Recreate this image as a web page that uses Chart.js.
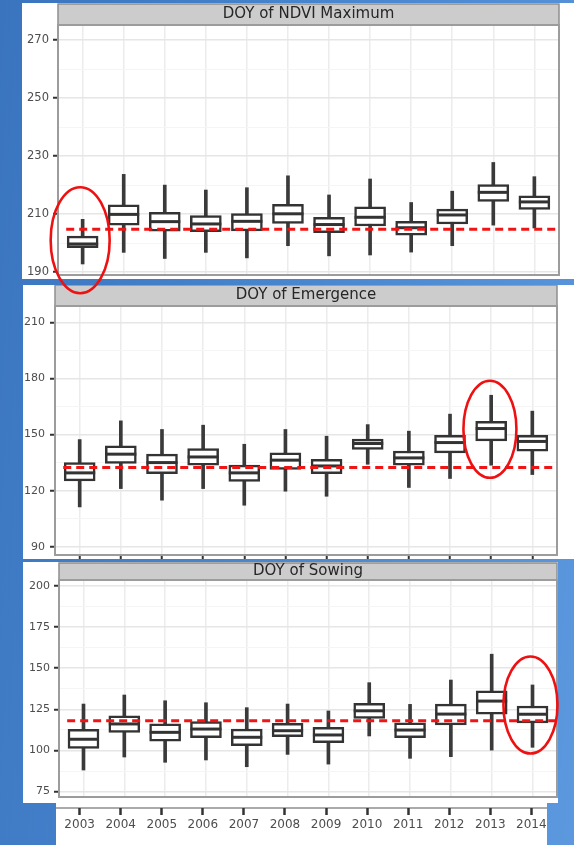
<!DOCTYPE html>
<html><head><meta charset="utf-8">
<script src="https://cdn.jsdelivr.net/npm/chart.js@4.4.1/dist/chart.umd.min.js"></script>
<style>
html,body{margin:0;padding:0;}
body{width:574px;height:845px;position:relative;overflow:hidden;
 background:linear-gradient(100deg,#3a74bf 0%,#4683cd 40%,#5c98de 100%);}
.panel{position:absolute;background:#fff;}
canvas{position:absolute;display:block;}
#overlay{left:0;top:0;z-index:10;pointer-events:none;}
</style></head><body>
<div class="panel" style="left:22px;top:3px;width:552px;height:276px"></div>
<div class="panel" style="left:23px;top:285px;width:551px;height:274px"></div>
<div class="panel" style="left:23px;top:562px;width:535px;height:241px"></div>
<div class="panel" style="left:56px;top:803px;width:491px;height:42px"></div>
<div style="position:absolute;left:56px;top:807px;width:491px;height:1.5px;background:#aaaaaa"></div>
<canvas id="c1" width="552" height="276" style="left:22px;top:3px"></canvas>
<canvas id="c2" width="551" height="274" style="left:23px;top:285px"></canvas>
<canvas id="c3" width="535" height="241" style="left:23px;top:562px"></canvas>
<canvas id="c4" width="501" height="42" style="left:55px;top:803px"></canvas>
<canvas id="overlay" width="574" height="845"></canvas>
<script>
// ---------- data ----------
const years = [2003,2004,2005,2006,2007,2008,2009,2010,2011,2012,2013,2014];

// DOY of NDVI Maximum
const ndviTitle = 'DOY of NDVI Maximum';
const ndviMin = [192.8,196.8,194.7,196.8,194.9,199.1,195.6,195.9,196.9,199.1,206.2,205.2];
const ndviQ1  = [198.4,206.2,204.1,203.9,204.2,206.8,203.6,205.9,202.7,206.6,214.4,211.6];
const ndviMed = [199.7,209.9,207.4,206.6,207.5,210.1,206.4,208.9,205.3,209.7,217.5,214.2];
const ndviQ3  = [202.4,213.2,210.6,209.5,210.2,213.4,208.9,212.5,207.5,211.7,220.2,216.3];
const ndviMax = [208.2,223.7,220.0,218.3,219.1,223.2,216.6,222.1,214.0,217.9,227.8,222.9];
const ndviRef = 204.8;
const ndviTicks = [190,200,210,220,230,240,250,260,270];
const ndviLabels = [190,210,230,250,270];

// DOY of Emergence
const emTitle = 'DOY of Emergence';
const emMin = [111.3,121.1,114.9,121.1,112.2,119.7,117.0,134.1,121.7,126.5,133.6,128.6];
const emQ1  = [125.2,134.5,129.1,133.6,124.9,131.4,129.1,142.1,133.6,140.2,146.6,141.1];
const emMed = [129.5,139.5,135.0,138.0,129.5,136.3,133.2,145.2,137.5,145.7,153.2,146.3];
const emQ3  = [135.0,143.9,139.5,142.5,133.6,140.2,136.8,147.5,141.2,149.6,157.1,149.6];
const emMax = [147.3,157.3,152.7,155.0,144.8,152.7,149.1,155.3,151.8,160.9,171.0,162.5];
const emRef = 132.4;
const emTicks = [90,105,120,135,150,165,180,195,210];
const emLabels = [90,120,150,180,210];

// DOY of Sowing
const sowTitle = 'DOY of Sowing';
const sowMin = [88.1,96.0,92.8,94.2,90.1,97.6,91.7,108.8,95.2,96.2,100.2,101.9];
const sowQ1  = [101.3,111.0,105.7,107.7,102.9,108.3,104.7,119.5,107.7,115.5,122.0,116.8];
const sowMed = [106.8,116.1,111.0,113.0,108.0,112.0,109.4,124.1,112.4,122.1,130.0,122.0];
const sowQ3  = [112.8,121.1,116.1,117.5,113.0,116.5,114.0,128.6,116.8,128.2,136.3,127.0];
const sowMax = [128.2,133.7,130.2,129.0,126.0,128.2,124.0,141.2,128.0,142.8,158.5,139.8];
const sowRef = 118.1;
const sowTicks = [75,87.5,100,112.5,125,137.5,150,162.5,175,187.5,200];
const sowLabels = [75,100,125,150,175,200];

// ---------- layout / style ----------
Chart.defaults.font.family = "'DejaVu Sans', sans-serif";
const X_PAD = 0.6;          // ggplot discrete expansion
const REF_FROM = -0.4, REF_TO = 0.55;
const INK = '#333333';

function noPad(s) { s.paddingTop = 0; s.paddingBottom = 0; s.paddingLeft = 0; s.paddingRight = 0; }

const deco = {
  id: 'deco',
  beforeDraw(chart, args, o) {
    const {ctx, chartArea: a} = chart;
    ctx.save();
    ctx.fillStyle = '#cccccc';
    ctx.fillRect(a.left, a.top - o.stripH, a.right - a.left, o.stripH);
    ctx.strokeStyle = '#8f8f8f'; ctx.lineWidth = 1.5;
    ctx.strokeRect(a.left, a.top - o.stripH, a.right - a.left, o.stripH);
    ctx.restore();
  },
  afterDraw(chart) {
    const {ctx, chartArea: a} = chart;
    ctx.save();
    ctx.strokeStyle = '#9c9c9c'; ctx.lineWidth = 2;
    ctx.strokeRect(a.left, a.top, a.right - a.left, a.bottom - a.top);
    ctx.restore();
  }
};

function panel(id, p) {
  const n = years.length;
  return new Chart(document.getElementById(id), {
    type: 'bar',
    data: {
      labels: years,
      datasets: [
        { type: 'line', data: [{x: years[0] + REF_FROM, y: p.ref}, {x: years[n-1] + REF_TO, y: p.ref}],
          borderColor: '#f01414', borderWidth: 3, borderDash: [8, 5], pointRadius: 0, order: 0 },
        { type: 'line', data: p.med, showLine: false, pointStyle: 'line', pointRadius: 15.5,
          pointBorderWidth: 3, pointBorderColor: INK, pointBackgroundColor: INK, order: 1 },
        { data: years.map((_, i) => [p.q1[i], p.q3[i]]), backgroundColor: '#ffffff',
          borderColor: INK, borderWidth: 2.5, borderSkipped: false, barThickness: 31, grouped: false, order: 2 },
        { data: years.map((_, i) => [p.min[i], p.max[i]]), backgroundColor: '#3a3a3a',
          borderWidth: 0, barThickness: 3, grouped: false, order: 3 }
      ]
    },
    options: {
      responsive: false, animation: false, events: [],
      layout: { autoPadding: false, padding: { left: 0, right: p.padR, top: p.padT, bottom: 0 } },
      plugins: {
        legend: { display: false }, tooltip: { enabled: false },
        title: { display: true, text: p.title, fullSize: false, color: '#262626',
                 font: { size: 15, weight: 'normal', lineHeight: p.stripH + 'px' }, padding: 0 },
        deco: { stripH: p.stripH }
      },
      scales: {
        x: {
          type: 'linear', offset: false,
          min: years[0] - X_PAD, max: years[n-1] + X_PAD,
          afterBuildTicks: s => { s.ticks = years.map(v => ({value: v})); },
          afterFit: s => { s.height = p.xH; noPad(s); },
          ticks: { display: false },
          border: { display: false },
          grid: { offset: false, color: '#ececec', lineWidth: 1.5,
                  drawTicks: p.xTicks, tickLength: 4, tickColor: INK, tickWidth: 2 }
        },
        y: {
          min: p.yMin, max: p.yMax,
          afterBuildTicks: s => { s.ticks = p.ticks.map(v => ({value: v})); },
          afterFit: s => { s.width = p.yW; noPad(s); },
          border: { display: false },
          ticks: { autoSkip: false, color: '#4d4d4d', padding: p.lblPad,
                   font: { size: p.yFont },
                   callback: v => p.labels.includes(v) ? String(v) : '' },
          grid: {
            color: c => p.labels.includes(c.tick.value) ? '#e6e6e6' : '#f5f5f5',
            lineWidth: c => p.labels.includes(c.tick.value) ? 1.5 : 1,
            tickLength: 5, tickWidth: 2,
            tickColor: c => p.labels.includes(c.tick.value) ? INK : 'rgba(0,0,0,0)'
          }
        }
      }
    },
    plugins: [deco]
  });
}

const ch1 = panel('c1', { title: ndviTitle, min: ndviMin, q1: ndviQ1, med: ndviMed, q3: ndviQ3, max: ndviMax,
  ref: ndviRef, ticks: ndviTicks, labels: ndviLabels, yMin: 189, yMax: 275.2,
  padR: 15, padT: 1, stripH: 21, xH: 4, xTicks: false, yW: 36, lblPad: 4, yFont: 11.5 });
const ch2 = panel('c2', { title: emTitle, min: emMin, q1: emQ1, med: emMed, q3: emQ3, max: emMax,
  ref: emRef, ticks: emTicks, labels: emLabels, yMin: 85.6, yMax: 218.7,
  padR: 17, padT: 0, stripH: 21, xH: 4, xTicks: true, yW: 32, lblPad: 5, yFont: 11 });
const ch3 = panel('c3', { title: sowTitle, min: sowMin, q1: sowQ1, med: sowMed, q3: sowQ3, max: sowMax,
  ref: sowRef, ticks: sowTicks, labels: sowLabels, yMin: 71.7, yMax: 203.6,
  padR: 1, padT: 1, stripH: 17, xH: 6, xTicks: false, yW: 36, lblPad: 4, yFont: 11 });

// bottom year axis
new Chart(document.getElementById('c4'), {
  type: 'bar',
  data: { labels: years, datasets: [] },
  options: {
    responsive: false, animation: false, events: [],
    layout: { autoPadding: false, padding: 0 },
    plugins: { legend: { display: false }, tooltip: { enabled: false } },
    scales: {
      x: {
        type: 'linear', offset: false,
        min: years[0] - X_PAD, max: years[years.length-1] + X_PAD,
        afterBuildTicks: s => { s.ticks = years.map(v => ({value: v})); },
        afterFit: s => { s.height = 37; noPad(s); },
        border: { display: false },
        ticks: { color: '#4d4d4d', padding: 3, font: { size: 12 }, maxRotation: 0, autoSkip: false,
                 callback: v => String(v) },
        grid: { offset: false, drawOnChartArea: false, drawTicks: true, tickLength: 7,
                tickColor: INK, tickWidth: 2.5 }
      },
      y: { display: false, min: 0, max: 1 }
    }
  }
});

// red highlight ellipses (annotation), positioned through the chart scales
const highlights = [
  { chart: ch1, id: 'c1', year: 2002.94, value: 201.0, rx: 29.5, ry: 53 },
  { chart: ch2, id: 'c2', year: 2012.97, value: 152.8, rx: 26.5, ry: 48.5 },
  { chart: ch3, id: 'c3', year: 2013.95, value: 127.6, rx: 27, ry: 48.5 }
];
const octx = document.getElementById('overlay').getContext('2d');
octx.strokeStyle = '#ee1111'; octx.lineWidth = 2.6;
highlights.forEach(h => {
  const el = document.getElementById(h.id);
  const ox = parseFloat(el.style.left), oy = parseFloat(el.style.top);
  const cx = ox + h.chart.scales.x.getPixelForValue(h.year);
  const cy = oy + h.chart.scales.y.getPixelForValue(h.value);
  octx.beginPath();
  octx.ellipse(cx, cy, h.rx, h.ry, 0, 0, Math.PI * 2);
  octx.stroke();
});
</script>
</body></html>
